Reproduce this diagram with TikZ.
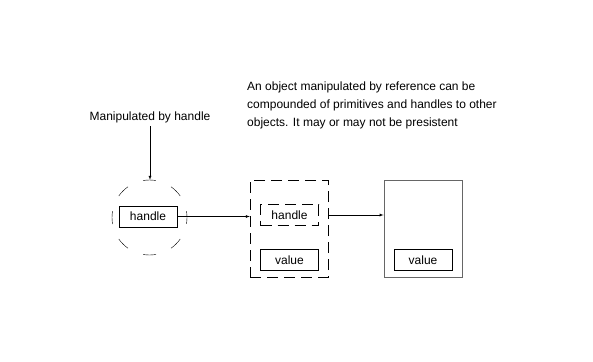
\documentclass[tikz,border=0pt]{standalone}
\usepackage{fontspec}
\setmainfont{Liberation Sans}
\usetikzlibrary{arrows.meta,positioning}

\begin{document}
\begin{tikzpicture}[x=1pt,y=-1pt,font=\fontsize{12}{18}\selectfont,
    box/.style={draw,minimum width=58pt,minimum height=21pt,inner sep=0pt},
    dbox/.style={box,dashed,dash pattern=on 11pt off 6pt},
    link/.style={-latex}]
    \useasboundingbox (0,0) rectangle (593,361);
    %Labels
    \node (lbl) at (150,117) {Manipulated by handle};
    \node[align=left,anchor=base west,inner sep=0pt] (note) at (247,126)
        {An object manipulated by reference can be\\
         compounded of primitives and handles to other\\
         objects. It may or may not be presistent};
    %Handle
    \node[draw,circle,dash pattern=on 13pt off 16.45pt,dash phase=6.5pt,minimum size=75pt] (circ) at (149.5,217.5) {};
    \node[box] (hdl) at (148,216.5) {handle};
    %Object manipulated by reference
    \node[dbox,minimum width=78pt,minimum height=97pt] (obj) at (289,228.5) {};
    \node[dbox] (ref) at (289.5,215) {handle};
    \node[box] (val) at (289.5,260) {value};
    %Storage
    \node[box,draw=black!60,line width=0.9pt,minimum width=78pt,minimum height=97pt] (store) at (423,228.5) {};
    \node[box] (sval) at (423,260) {value};
    %Arrows
    \draw[link] (lbl.south) -- (lbl.south |- circ.north);
    \draw[link] (hdl.east) -- (hdl.east -| obj.west);
    \draw[link] (obj.east |- ref) -- (store.west |- ref);
\end{tikzpicture}
\end{document}
